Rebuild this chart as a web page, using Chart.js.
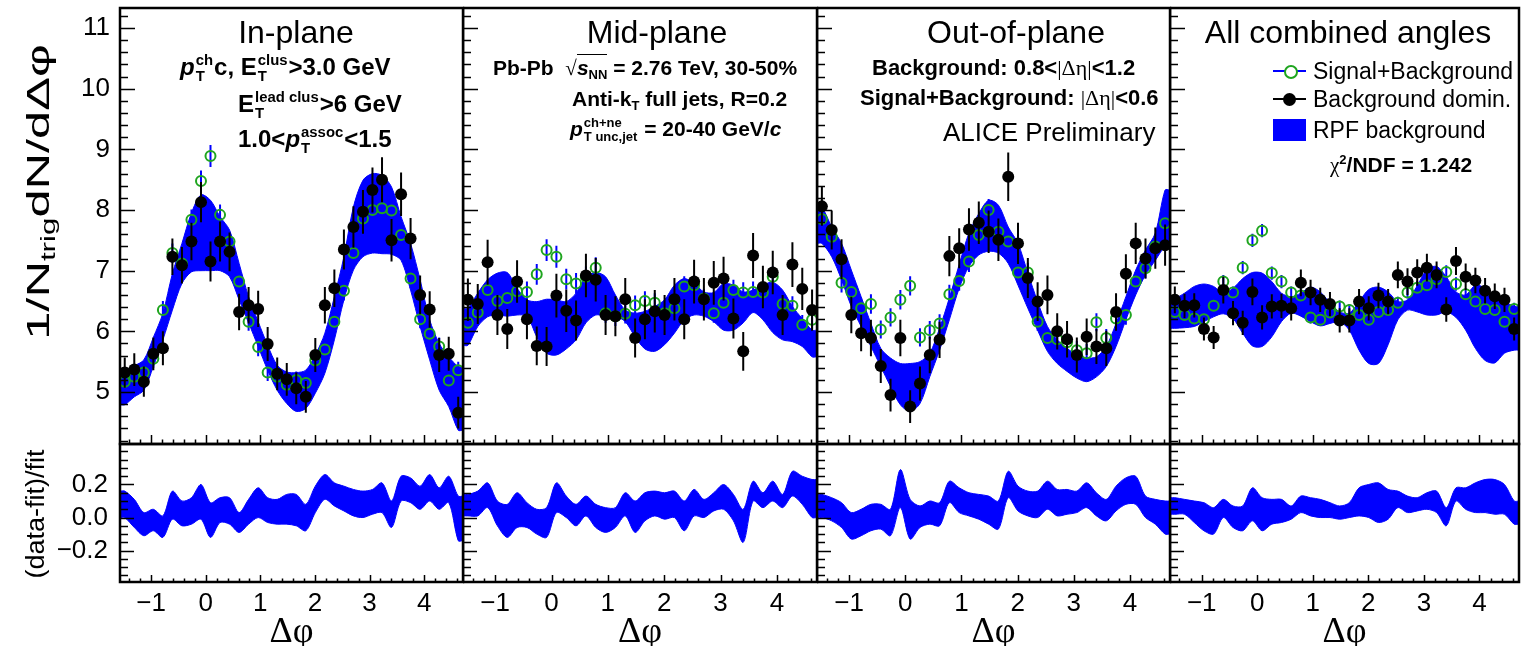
<!DOCTYPE html>
<html>
<head>
<meta charset="utf-8">
<script src="https://cdn.jsdelivr.net/npm/chart.js@4.4.1/dist/chart.umd.min.js"></script>
<style>
  body { margin:0; width:1524px; height:646px; position:relative; overflow:hidden; background:#fff;
         font-family:"Liberation Sans", Arial, sans-serif; color:#000; }
  canvas { position:absolute; }
  .t { position:absolute; height:0; display:flex; align-items:center; white-space:nowrap; z-index:2; }
  .c { justify-content:center; width:600px; }
  .b { font-weight:bold; }
  .ss { display:inline-flex; flex-direction:column; font-size:0.62em; line-height:1.05; vertical-align:0.68em; margin:0 1px; }
  sub { font-size:0.62em; vertical-align:-0.3em; line-height:0; }
  sup { font-size:0.62em; vertical-align:0.6em; line-height:0; }
  .sym { font-family:"Liberation Serif", serif; font-weight:normal; }
  .ov { border-top:1.5px solid #000; padding-top:1px; }
  .rot { position:absolute; white-space:nowrap; line-height:1; z-index:2; }
  .mk { position:absolute; z-index:2; }
</style>
</head>
<body>
<script>
// Δφ bin centres (36 bins over -π/2 .. 3π/2)
const dphi = [-1.484,-1.309,-1.134,-0.960,-0.785,-0.611,-0.436,-0.262,-0.087,0.087,0.262,0.436,
  0.611,0.785,0.960,1.134,1.309,1.484,1.658,1.833,2.007,2.182,2.356,2.531,
  2.705,2.880,3.054,3.229,3.403,3.578,3.752,3.927,4.102,4.276,4.451,4.625]
const xTicks = [-1, 0, 1, 2, 3, 4]
const yTicks = [5, 6, 7, 8, 9, 10, 11]
const ratioTicks = [-0.2, 0, 0.2]

// In-plane
const sigBkgIn = [5.17,5.25,5.32,5.55,6.35,7.29,7.12,7.84,8.48,8.89,7.92,7.48,6.82,6.16,5.74,5.32,5.25,5.12,5.20,5.15,5.52,5.70,6.16,6.67,7.29,7.86,8.00,8.03,7.99,7.59,6.87,6.20,5.96,5.75,5.19,5.36]
const sigErrIn = [0.14,0.14,0.14,0.15,0.15,0.16,0.16,0.17,0.17,0.18,0.17,0.16,0.16,0.15,0.15,0.14,0.14,0.14,0.14,0.14,0.14,0.15,0.15,0.16,0.16,0.17,0.17,0.17,0.17,0.17,0.16,0.15,0.15,0.15,0.14,0.14]
const bkgIn = [5.32,5.37,5.17,5.63,5.72,7.23,7.09,7.48,8.13,7.15,7.48,7.31,6.32,6.43,6.37,5.79,5.30,5.21,5.06,4.92,5.61,6.43,6.71,7.35,7.72,7.97,8.33,8.50,7.50,8.26,7.53,6.60,6.36,5.61,5.63,4.66]
const bkgErrIn = [0.25,0.27,0.25,0.27,0.28,0.30,0.30,0.31,0.33,0.33,0.33,0.32,0.30,0.30,0.30,0.28,0.27,0.27,0.26,0.26,0.28,0.30,0.31,0.33,0.34,0.36,0.37,0.37,0.35,0.36,0.34,0.32,0.30,0.28,0.28,0.26]
const rpfLoIn = [4.79,4.92,5.03,5.42,5.86,6.35,6.79,6.98,7.00,7.00,7.00,6.90,6.52,6.14,5.75,5.36,5.03,4.81,4.68,4.73,4.98,5.31,5.86,6.52,7.01,7.23,7.29,7.28,7.27,7.17,6.68,6.08,5.53,5.03,4.76,4.37]
const rpfHiIn = [5.33,5.43,5.53,5.90,6.30,6.95,7.45,7.95,8.25,8.16,7.89,7.67,7.12,6.57,6.16,5.77,5.44,5.33,5.32,5.36,5.61,5.97,6.57,7.23,8.05,8.49,8.60,8.57,8.38,7.89,7.45,6.85,6.19,5.80,5.58,5.42]
const ratioLoIn = [0.00,-0.06,-0.11,-0.08,-0.12,-0.01,-0.05,-0.04,-0.01,-0.12,-0.03,-0.04,-0.09,-0.04,0.00,-0.03,-0.04,-0.04,-0.05,-0.08,0.03,0.11,0.07,0.04,0.01,0.00,0.02,0.03,-0.06,0.10,0.09,0.05,0.10,0.05,0.09,-0.14]
const ratioHiIn = [0.16,0.11,0.03,0.05,0.01,0.16,0.10,0.12,0.20,0.09,0.12,0.12,0.03,0.11,0.18,0.12,0.11,0.14,0.14,0.08,0.19,0.26,0.21,0.19,0.17,0.16,0.17,0.21,0.10,0.25,0.24,0.19,0.26,0.18,0.25,0.13]

// Mid-plane
const sigBkgMid = [6.14,6.31,6.68,6.50,6.55,6.66,6.65,6.94,7.34,7.23,6.86,6.79,6.90,7.05,6.30,6.25,6.29,6.43,6.50,6.47,6.30,6.38,6.74,6.76,6.54,6.30,6.47,6.68,6.64,6.65,6.64,6.90,6.45,6.42,6.11,6.19]
const sigErrMid = [0.16,0.16,0.17,0.16,0.16,0.17,0.17,0.17,0.18,0.18,0.17,0.17,0.17,0.17,0.16,0.16,0.16,0.16,0.16,0.16,0.16,0.16,0.17,0.17,0.16,0.16,0.16,0.17,0.17,0.17,0.17,0.17,0.16,0.16,0.16,0.16]
const bkgMid = [6.52,6.45,7.14,6.27,6.04,6.82,6.20,5.76,5.75,6.59,6.34,6.18,6.92,6.85,6.27,6.25,6.53,5.89,6.20,6.33,6.27,6.53,6.20,6.82,6.53,6.80,6.87,6.21,5.67,7.25,6.73,6.97,6.27,7.10,6.70,6.35]
const bkgErrMid = [0.35,0.33,0.37,0.33,0.33,0.35,0.33,0.32,0.32,0.36,0.35,0.33,0.36,0.36,0.33,0.33,0.35,0.32,0.33,0.35,0.33,0.35,0.33,0.36,0.35,0.36,0.36,0.33,0.32,0.37,0.35,0.36,0.33,0.37,0.35,0.34]
const rpfLoMid = [5.77,6.08,6.24,6.27,6.25,6.27,6.25,5.91,5.64,5.61,5.71,5.86,6.14,6.27,6.25,6.25,6.16,5.91,5.71,5.67,5.78,5.97,6.19,6.27,6.25,6.16,6.02,6.02,6.14,6.31,6.19,5.98,5.86,5.83,5.75,5.58]
const rpfHiMid = [6.38,6.63,6.85,6.96,6.97,6.71,6.52,6.49,6.53,6.52,6.49,6.63,6.90,6.97,6.90,6.60,6.35,6.30,6.33,6.41,6.52,6.76,6.87,6.79,6.65,6.64,6.79,6.76,6.65,6.68,6.76,6.81,6.68,6.41,6.21,6.02]
const ratioLoMid = [0.01,0.01,0.06,-0.05,-0.12,-0.06,-0.06,-0.10,-0.12,0.03,0.00,-0.05,0.01,-0.06,-0.09,-0.06,0.01,-0.09,-0.02,0.01,-0.01,0.00,-0.08,0.01,0.00,0.04,0.05,-0.02,-0.15,0.10,0.06,0.10,0.06,0.13,0.08,0.00]
const ratioHiMid = [0.14,0.16,0.21,0.10,0.08,0.15,0.09,0.05,0.06,0.21,0.13,0.08,0.13,0.08,0.06,0.06,0.15,0.10,0.15,0.16,0.15,0.16,0.10,0.17,0.11,0.15,0.20,0.14,0.05,0.22,0.15,0.22,0.14,0.28,0.25,0.23]

// Out-of-plane
const sigBkgOut = [7.85,7.56,6.80,6.65,6.38,6.45,6.03,6.23,6.52,6.75,5.90,6.02,6.13,6.61,6.83,7.15,7.59,8.00,7.64,7.48,6.97,6.97,6.16,5.89,5.87,5.82,5.69,5.64,6.15,5.89,6.21,6.27,6.82,7.04,7.40,7.78]
const sigErrOut = [0.17,0.17,0.16,0.16,0.16,0.16,0.15,0.15,0.16,0.16,0.15,0.15,0.15,0.16,0.16,0.17,0.17,0.18,0.17,0.17,0.16,0.16,0.15,0.15,0.15,0.15,0.15,0.15,0.15,0.15,0.15,0.16,0.16,0.17,0.17,0.17]
const bkgOut = [8.06,7.67,7.19,6.27,5.97,5.89,5.43,4.95,5.89,4.76,5.14,5.61,5.86,7.24,7.37,7.68,7.79,7.64,7.51,8.55,7.45,6.88,6.49,6.60,6.00,5.87,5.61,5.91,5.75,5.72,6.32,6.95,7.45,7.20,7.37,7.42]
const bkgErrOut = [0.32,0.32,0.33,0.30,0.30,0.30,0.28,0.27,0.30,0.27,0.28,0.30,0.30,0.33,0.33,0.35,0.35,0.35,0.35,0.40,0.34,0.33,0.32,0.32,0.30,0.30,0.29,0.30,0.29,0.29,0.31,0.32,0.34,0.33,0.34,0.34]
const rpfLoOut = [7.45,7.23,6.85,6.41,6.08,5.75,5.42,5.09,4.79,4.68,4.81,5.25,5.69,6.19,6.71,7.07,7.26,7.32,7.29,7.12,6.76,6.38,6.02,5.67,5.47,5.34,5.23,5.17,5.25,5.42,5.75,6.19,6.60,6.93,7.17,7.40]
const rpfHiOut = [8.05,7.72,7.45,7.01,6.57,6.13,5.72,5.56,5.47,5.47,5.50,5.64,6.05,6.55,7.10,7.62,7.94,8.16,8.08,7.72,7.45,6.96,6.49,6.08,5.86,5.72,5.61,5.56,5.58,5.75,6.13,6.57,7.01,7.34,7.62,8.33]
const ratioLoOut = [0.00,-0.02,-0.06,-0.13,-0.11,-0.08,-0.07,-0.11,0.06,-0.13,-0.06,-0.04,-0.05,0.09,0.03,0.01,-0.01,-0.04,-0.07,0.12,0.04,0.01,0.00,0.05,0.01,0.02,0.03,0.06,0.01,-0.02,0.04,0.08,0.08,0.00,-0.04,-0.10]
const ratioHiOut = [0.14,0.12,0.09,0.03,0.05,0.08,0.08,0.05,0.29,0.11,0.07,0.10,0.09,0.22,0.18,0.15,0.14,0.13,0.10,0.28,0.19,0.16,0.16,0.22,0.17,0.17,0.16,0.21,0.15,0.11,0.19,0.24,0.25,0.13,0.11,0.10]

// All combined angles
const sigBkgAll = [6.32,6.27,6.21,6.20,6.42,6.82,6.64,7.05,7.50,7.66,6.96,6.82,6.64,6.59,6.23,6.19,6.31,6.41,6.35,6.27,6.19,6.32,6.35,6.47,6.64,6.72,6.76,6.86,6.98,6.78,6.61,6.49,6.37,6.35,6.16,6.37]
const sigErrAll = [0.10,0.10,0.10,0.10,0.10,0.11,0.10,0.11,0.11,0.11,0.11,0.11,0.10,0.10,0.10,0.10,0.10,0.10,0.10,0.10,0.10,0.10,0.10,0.10,0.10,0.11,0.11,0.11,0.11,0.11,0.10,0.10,0.10,0.10,0.10,0.10]
const bkgAll = [6.52,6.42,6.43,6.04,5.90,6.68,6.30,6.14,6.65,6.23,6.41,6.42,6.38,6.80,6.64,6.52,6.45,6.18,6.18,6.49,6.38,6.59,6.49,6.93,6.82,6.97,7.05,6.93,6.36,7.16,6.90,6.84,6.67,6.58,6.52,6.04]
const bkgErrAll = [0.22,0.20,0.20,0.19,0.19,0.22,0.20,0.20,0.22,0.20,0.20,0.20,0.20,0.22,0.21,0.20,0.20,0.20,0.20,0.21,0.20,0.21,0.21,0.22,0.22,0.22,0.23,0.22,0.20,0.23,0.22,0.21,0.21,0.21,0.20,0.19]
const rpfLoAll = [6.05,6.06,6.08,6.16,6.24,6.29,6.21,5.97,5.76,5.75,5.91,6.16,6.30,6.25,6.16,6.09,6.13,6.16,6.02,5.69,5.47,5.47,5.78,6.19,6.35,6.32,6.27,6.27,6.32,6.23,6.02,5.72,5.52,5.48,5.64,5.69]
const rpfHiAll = [6.54,6.63,6.74,6.78,6.74,6.63,6.71,6.87,6.97,6.96,6.82,6.63,6.57,6.63,6.73,6.65,6.47,6.32,6.30,6.49,6.69,6.73,6.65,6.49,6.52,6.75,7.02,7.07,6.90,6.65,6.60,6.76,6.71,6.54,6.49,6.41]
const ratioLoAll = [0.02,0.02,-0.03,-0.08,-0.10,0.00,-0.06,-0.08,-0.02,-0.08,-0.04,-0.03,-0.01,0.03,0.01,0.00,0.00,-0.01,0.00,0.01,0.00,-0.03,-0.01,0.06,0.03,0.04,0.05,0.03,-0.05,0.10,0.05,0.03,0.03,0.02,0.02,-0.04]
const ratioHiAll = [0.12,0.11,0.10,0.09,0.06,0.11,0.07,0.07,0.18,0.12,0.11,0.11,0.07,0.13,0.12,0.11,0.09,0.07,0.09,0.18,0.20,0.21,0.17,0.16,0.13,0.12,0.15,0.16,0.06,0.18,0.18,0.21,0.23,0.23,0.20,0.10]

const BLUE = '#0000ff'
const GREEN = '#1fa51f'
const PHI_MIN = -Math.PI / 2
const PHI_MAX = 3 * Math.PI / 2

const panels = [
  { left:120, right:463,  sig:sigBkgIn,  sigErr:sigErrIn,  bkg:bkgIn,  bkgErr:bkgErrIn,  lo:rpfLoIn,  hi:rpfHiIn,  rlo:ratioLoIn,  rhi:ratioHiIn },
  { left:463, right:817,  sig:sigBkgMid, sigErr:sigErrMid, bkg:bkgMid, bkgErr:bkgErrMid, lo:rpfLoMid, hi:rpfHiMid, rlo:ratioLoMid, rhi:ratioHiMid },
  { left:817, right:1170, sig:sigBkgOut, sigErr:sigErrOut, bkg:bkgOut, bkgErr:bkgErrOut, lo:rpfLoOut, hi:rpfHiOut, rlo:ratioLoOut, rhi:ratioHiOut },
  { left:1170, right:1519, sig:sigBkgAll, sigErr:sigErrAll, bkg:bkgAll, bkgErr:bkgErrAll, lo:rpfLoAll, hi:rpfHiAll, rlo:ratioLoAll, rhi:ratioHiAll }
]

const minus = s => s.replace('-', '\u2212')

// ROOT style frame: inward ticks on the left and bottom, thick box round the pad
const rootFrame = {
  id: 'rootFrame',
  afterDraw(chart, args, o) {
    const { ctx, chartArea: a } = chart
    const x = chart.scales.x, y = chart.scales.y
    ctx.save()
    ctx.strokeStyle = '#000'
    ctx.lineWidth = 1.5
    ctx.beginPath()
    for (let k = Math.ceil(x.min / o.xStep - 1e-9); k * o.xStep <= x.max + 1e-9; k++) {
      const v = k * o.xStep
      const len = xTicks.some(t => Math.abs(t - v) < 1e-6) ? o.xMajor : o.xMinor
      const px = Math.round(x.getPixelForValue(v)) + 0.5
      ctx.moveTo(px, a.bottom); ctx.lineTo(px, a.bottom - len)
    }
    for (let k = Math.ceil(y.min / o.yStep - 1e-9); k * o.yStep <= y.max + 1e-9; k++) {
      const v = k * o.yStep
      const len = o.yMajors.some(t => Math.abs(t - v) < 1e-6) ? o.yMajor : o.yMinor
      const py = Math.round(y.getPixelForValue(v)) + 0.5
      ctx.moveTo(a.left, py); ctx.lineTo(a.left + len, py)
    }
    ctx.stroke()
    ctx.lineWidth = 2.5
    ctx.strokeRect(a.left, a.top, a.right - a.left, a.bottom - a.top)
    ctx.restore()
  }
}

// vertical error bars, drawn just before the markers of their own dataset
const errorBars = {
  id: 'errorBars',
  beforeDatasetDraw(chart, args) {
    const ds = chart.data.datasets[args.index]
    if (!ds.errs) return
    const { ctx, chartArea: a } = chart
    const x = chart.scales.x, y = chart.scales.y
    ctx.save()
    ctx.beginPath()
    ctx.rect(a.left, a.top, a.right - a.left, a.bottom - a.top)
    ctx.clip()
    ctx.strokeStyle = ds.errColor
    ctx.lineWidth = 2
    ctx.beginPath()
    ds.data.forEach((p, i) => {
      const px = x.getPixelForValue(p.x)
      ctx.moveTo(px, y.getPixelForValue(p.y - ds.errs[i]))
      ctx.lineTo(px, y.getPixelForValue(p.y + ds.errs[i]))
    })
    ctx.stroke()
    ctx.restore()
  }
}

const points = arr => dphi.map((x, i) => ({ x, y: arr[i] }))
// band runs to the pad edges, holding the outermost values
const bandPoints = arr => [{ x: PHI_MIN, y: arr[0] }, ...points(arr), { x: PHI_MAX, y: arr[arr.length - 1] }]

const bandSets = (lo, hi) => {
  const common = { showLine: true, pointRadius: 0, borderColor: BLUE, borderWidth: 1, tension: 0.3, order: 3 }
  return [
    { ...common, data: bandPoints(hi), fill: false },
    { ...common, data: bandPoints(lo), fill: '-1', backgroundColor: BLUE }
  ]
}

const addCanvas = (left, top, w, h) => {
  const c = document.createElement('canvas')
  c.width = w; c.height = h
  c.style.left = left + 'px'; c.style.top = top + 'px'
  document.body.appendChild(c)
  return c
}

const tickFont = { family: '"Liberation Sans", Arial, sans-serif', size: 26 }

// fixed axis sizes, no automatic room for half labels at the ends
const fixSize = (s, w, h) => {
  if (w !== null) s.width = w
  if (h !== null) s.height = h
  s.paddingTop = 0; s.paddingBottom = 0; s.paddingLeft = 0; s.paddingRight = 0
}

const makeChart = (canvas, datasets, cfg) => new Chart(canvas, {
  type: 'scatter',
  data: { datasets },
  options: {
    responsive: false, animation: false, devicePixelRatio: 1, events: [],
    layout: { padding: cfg.padding, autoPadding: false },
    plugins: { legend: { display: false }, tooltip: { enabled: false }, rootFrame: cfg.frame },
    scales: {
      x: {
        type: 'linear', min: PHI_MIN, max: PHI_MAX, display: cfg.showX,
        grid: { display: false, drawTicks: false }, border: { display: false },
        afterBuildTicks: s => { s.ticks = xTicks.map(value => ({ value })) },
        afterFit: s => fixSize(s, null, cfg.showX ? cfg.xHeight : 0),
        ticks: { font: tickFont, color: '#000', padding: 6, autoSkip: false, maxRotation: 0,
                 callback: v => minus(String(v)) }
      },
      y: {
        type: 'linear', min: cfg.yMin, max: cfg.yMax, display: cfg.showY,
        grid: { display: false, drawTicks: false }, border: { display: false },
        afterBuildTicks: s => { s.ticks = cfg.yTicks.map(value => ({ value })) },
        afterFit: s => fixSize(s, cfg.showY ? 120 : 0, null),
        ticks: { font: tickFont, color: '#000', padding: cfg.yPad, autoSkip: false,
                 callback: cfg.yFmt }
      }
    }
  },
  plugins: [errorBars, rootFrame]
})

panels.forEach((p, k) => {
  const cl = k === 0 ? 0 : p.left
  // upper pad: correlation functions with the RPF background band
  const top = addCanvas(cl, 0, p.right - cl + 2, 446)
  makeChart(top, [
    { data: points(p.bkg), errs: p.bkgErr, errColor: '#000', pointRadius: 6, pointBackgroundColor: '#000',
      pointBorderColor: '#000', pointBorderWidth: 0, order: 1 },
    { data: points(p.sig), errs: p.sigErr, errColor: BLUE, pointRadius: 5, pointBackgroundColor: 'rgba(0,0,0,0)',
      pointBorderColor: GREEN, pointBorderWidth: 2, order: 2 },
    ...bandSets(p.lo, p.hi)
  ], {
    padding: { top: 8, right: 2, bottom: 2, left: 0 },
    showX: false, xHeight: 0, showY: k === 0, yMin: 4.143, yMax: 11.33, yTicks, yPad: 10,
    yFmt: v => String(v),
    frame: { xStep: 0.2, xMajor: 9, xMinor: 4.5, yStep: 0.2, yMajors: yTicks, yMajor: 15, yMinor: 8 }
  })
  // lower pad: (data-fit)/fit
  const bot = addCanvas(cl, 440, p.right - cl + 2, 206)
  makeChart(bot, bandSets(p.rlo, p.rhi), {
    padding: { top: 4, right: 2, bottom: 0, left: 0 },
    showX: true, xHeight: 64, showY: k === 0, yMin: -0.39, yMax: 0.445, yTicks: ratioTicks, yPad: 12,
    yFmt: v => minus(v.toFixed(1)),
    frame: { xStep: 0.2, xMajor: 7, xMinor: 3.5, yStep: 0.05, yMajors: ratioTicks, yMajor: 14, yMinor: 8 }
  })
})

const addText = (html, cls, left, cy, style) => {
  const d = document.createElement('div')
  d.className = 't ' + cls
  d.style.left = left + 'px'
  d.style.top = cy + 'px'
  if (style) d.style.cssText += style
  d.innerHTML = '<span>' + html + '</span>'
  document.body.appendChild(d)
}
const ss = (up, dn) => '<span class="ss"><span>' + up + '</span><span>' + dn + '</span></span>'

// pad titles
const titles = ['In-plane', 'Mid-plane', 'Out-of-plane', 'All combined angles']
const titleX = [296, 657, 1016, 1348]
titles.forEach((t, i) => addText(t, 'c', titleX[i] - 300, 32, 'font-size:32px'))

// Δφ axis titles under each lower pad
panels.forEach(p => addText('Δφ', 'c', (p.left + p.right) / 2 - 300, 630,
  'font-size:36px;font-family:"Liberation Serif",serif'))

// in-plane selection
addText('<i>p</i>' + ss('ch', 'T') + 'c, E' + ss('clus', 'T') + '&gt;3.0 GeV', 'b', 180, 69, 'font-size:24px')
addText('E' + ss('lead clus', 'T') + '&gt;6 GeV', 'b', 238, 106, 'font-size:24px')
addText('1.0&lt;<i>p</i>' + ss('assoc', 'T') + '&lt;1.5', 'b', 238, 141, 'font-size:24px')

// collision system and jets
addText('Pb-Pb &nbsp;<span class="sym">√</span><span class="ov"><i>s</i><sub>NN</sub></span> = 2.76 TeV, 30-50%', 'b', 493, 68, 'font-size:21px')
addText('Anti-k<sub>T</sub> full jets, R=0.2', 'b', 572, 99, 'font-size:21px')
addText('<i>p</i>' + ss('ch+ne', 'T unc,jet') + ' = 20-40 GeV/<i>c</i>', 'b', 570, 130, 'font-size:21px')

// Δη windows
addText('Background: 0.8&lt;<span class="sym">|Δη|</span>&lt;1.2', 'b', 872, 68, 'font-size:22px')
addText('Signal+Background: <span class="sym">|Δη|</span>&lt;0.6', 'b', 860, 98, 'font-size:22px')
addText('ALICE Preliminary', '', 943, 132, 'font-size:26px')

// legend
const legendRows = [['Signal+Background', 71], ['Background domin.', 99], ['RPF background', 130]]
legendRows.forEach(([t, cy]) => addText(t, '', 1313, cy, 'font-size:23px'))
const mark = css => {
  const d = document.createElement('div')
  d.className = 'mk'
  d.style.cssText += css
  document.body.appendChild(d)
}
mark('left:1273px;top:70px;width:33px;height:2px;background:' + BLUE)
mark('left:1284px;top:65px;width:10px;height:10px;border:2px solid ' + GREEN + ';border-radius:50%;background:#fff')
mark('left:1273px;top:98px;width:33px;height:2px;background:#000')
mark('left:1283px;top:93px;width:13px;height:13px;border-radius:50%;background:#000')
mark('left:1273px;top:119px;width:33px;height:22px;background:' + BLUE)

addText('<span class="sym">χ</span><sup>2</sup>/NDF = 1.242', 'b', 1330, 165, 'font-size:21px')

// y-axis titles, rotated about their centre; the first one is drawn elongated
const rot = (html, cx, cy, size, stretch) => {
  const d = document.createElement('div')
  d.className = 'rot'
  d.style.left = cx + 'px'; d.style.top = cy + 'px'; d.style.fontSize = size + 'px'
  d.style.transform = 'translate(-50%,-50%) rotate(-90deg) scaleX(' + stretch + ')'
  d.innerHTML = html
  document.body.appendChild(d)
}
rot('1/N<sub>trig</sub>dN/dΔφ', 38, 192, 32, 1.58)
rot('(data-fit)/fit', 35, 514, 26, 1.04)
</script>
</body>
</html>
